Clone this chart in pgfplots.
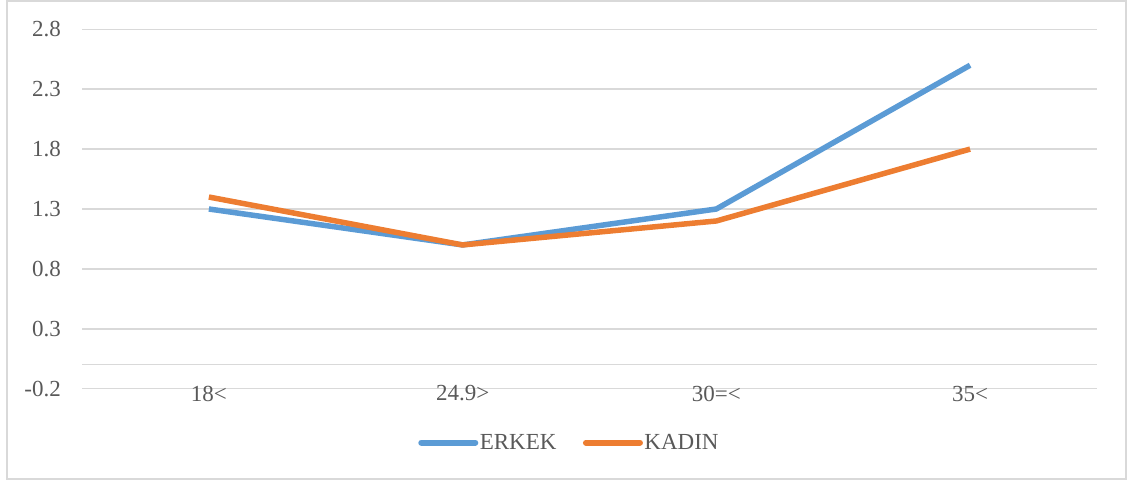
\documentclass[border=0pt]{standalone}
\usepackage{fontspec}
\setmainfont{Liberation Serif}
\usepackage{pgfplots}
\pgfplotsset{compat=1.18}
\definecolor{erkek}{HTML}{5B9BD5}
\definecolor{kadin}{HTML}{ED7D31}
\definecolor{gridc}{HTML}{D9D9D9}
\definecolor{txt}{HTML}{595959}
\begin{document}
\begin{tikzpicture}[font=\fontsize{23}{27}\selectfont]
\useasboundingbox (0,0) rectangle (1130pt,482pt);
\draw[gridc, line width=1.5pt] (7pt,3pt) rectangle (1126pt,481pt);
\begin{axis}[
  at={(82pt,93.3pt)}, anchor=south west,
  scale only axis, width=1015pt, height=359.4pt,
  xmin=-0.5, xmax=3.5, ymin=-0.2, ymax=2.8,
  xtick={0,1,2,3}, xticklabels={18<,24.9>,30=<,35<},
  ytick={-0.2,0.3,0.8,1.3,1.8,2.3,2.8},
  yticklabels={-0.2,0.3,0.8,1.3,1.8,2.3,2.8},
  extra y ticks={0}, extra y tick labels={},
  ymajorgrids,
  major grid style={gridc, line width=1.5pt},
  extra y tick style={grid=major, major grid style={gridc, line width=1.5pt}},
  axis line style={draw=none},
  major tick length=0pt,
  tick label style={font=\fontsize{23}{27}\selectfont, text=txt},
  yticklabel style={anchor=east, inner sep=0pt, xshift=-21pt},
  xticklabel style={anchor=center, inner sep=0pt, yshift=-4.8pt},
  legend style={at={(0.48,-0.150)}, anchor=center, draw=none, fill=none,
    legend columns=2, font=\fontsize{23}{27}\selectfont, text=txt,
    /tikz/every even column/.append style={column sep=25pt},
    nodes={inner sep=1.5pt}},
  legend image code/.code={\draw[#1, line width=6pt, line cap=round] (0pt,0pt) -- (54pt,0pt);},
]
\addplot[erkek, line width=5.5pt, line join=round] coordinates {(0,1.3) (1,1.0) (2,1.3) (3,2.5)};
\addlegendentry{ERKEK}
\addplot[kadin, line width=5.5pt, line join=round] coordinates {(0,1.4) (1,1.0) (2,1.2) (3,1.8)};
\addlegendentry{KADIN}
\end{axis}
\end{tikzpicture}
\end{document}
